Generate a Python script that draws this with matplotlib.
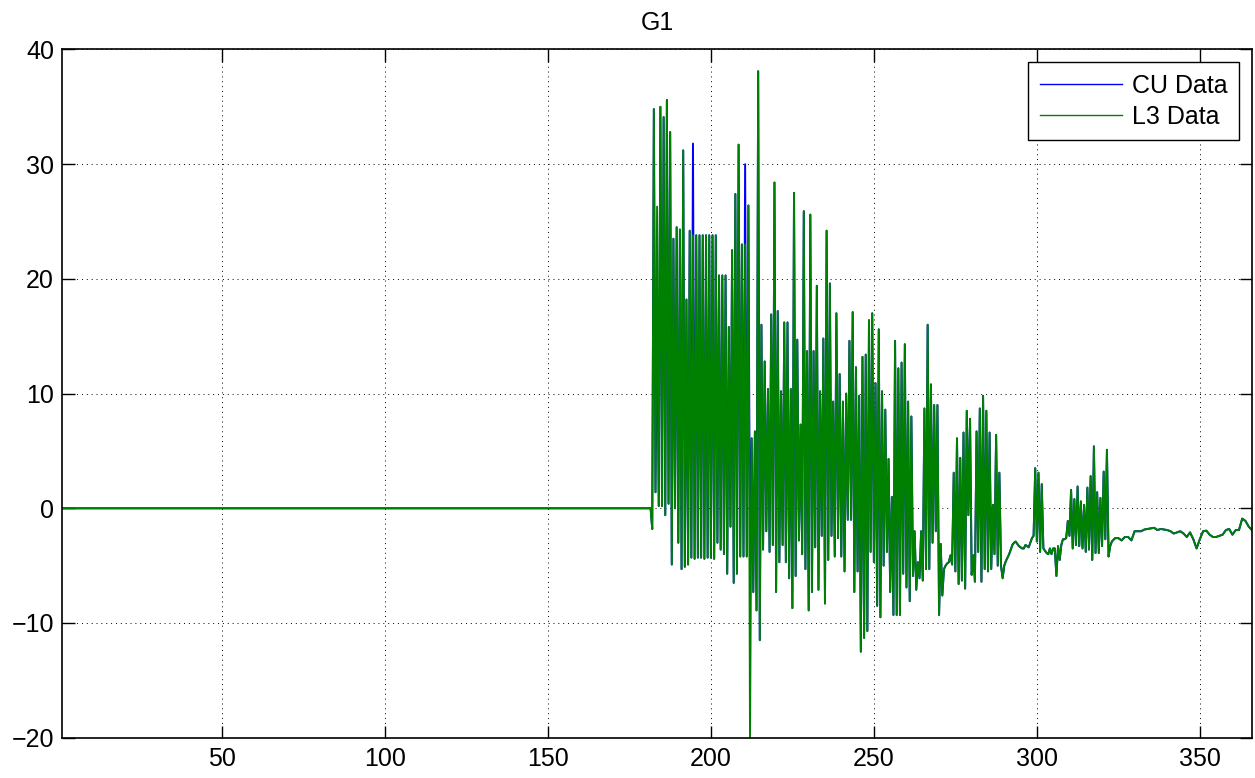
import numpy as np
import matplotlib
matplotlib.use("Agg")
import matplotlib.pyplot as plt

# ---- data ----
flat_days = [1, 181.5]
flat_vals = [0.0, 0.0]

burst_first_day = 182
burst_trough = [
    -1.8, 1.4, 0.2, 0.2, -0.6, 0.4, -4.9, 0.0, -3.0, -5.3, -5.1, -4.9,
    -4.3, -4.4, -4.3, -4.3, -4.4, -4.3, -4.3, -4.4,
    -3.0, -3.6, -4.0, -5.7, -1.6, -6.5, -5.7, -4.2, -4.2,
    -4.2, -20.0, -7.3, -8.9, -11.5, -3.6, -2.0, -3.8, -3.2, -7.3,
    -4.7, -3.2, -4.7, -6.1, -8.7, -5.9, -2.8, -4.0, -5.3, -8.9,
    -7.3, -3.4, -7.1, -2.4, -8.3, -4.5, -2.4, -4.2, -2.6, -4.2,
    -5.5, -1.0, -1.0, -7.3, -5.5, -12.5, -11.3, -10.7, -3.8, -4.7,
    -8.5, -9.5, -5.0, -3.8, -7.3, -9.3, -9.3, -9.3, -5.7, -6.9,
    -8.1, -5.9, -7.1, -6.1, -6.3, -5.3, -5.3, -3.0, -2.0, -9.3,
    -7.6, -5.0, -4.7, -4.9, -5.5, -6.6, -6.3, -7.0, -0.6, -5.8,
    -6.4, -3.8, -6.4, -5.3, -5.5, -5.3, -4.0, -5.0, -5.0, -5.0,
    -4.3, -3.6, -3.0, -3.1, -3.4, -3.5, -3.3, -3.0, -2.4, -2.9,
    -3.8, -3.5, -3.9, -3.5, -3.5, -5.9, -4.5, -2.7, -2.6, -2.4,
    -3.5, -3.2, -3.3, -3.5, -3.8, -3.6, -4.5, -3.9, -3.9, -3.3,
    -2.7, -4.2,
]
burst_peak = [
    34.8, 26.3, 35.0, 34.1, 35.6, 32.8, 23.5, 24.5, 24.3, 31.2, 18.2, 24.2,
    23.8, 23.8, 23.8, 23.8, 23.8, 23.8, 23.8, 23.8,
    20.3, 20.3, 20.3, 15.8, 22.5, 27.4, 31.7, 23.0, 23.0,
    26.4, 6.1, 6.7, 38.1, 16.0, 12.8, 10.4, 16.9, 28.4, 17.2,
    10.2, 16.2, 16.2, 10.4, 27.5, 14.7, 7.3, 25.9, 13.7, 25.6,
    13.7, 19.4, 10.2, 14.8, 24.2, 19.6, 9.3, 17.0, 11.7, 9.3,
    10.0, 14.6, 17.1, 12.3, 9.8, 13.2, 13.4, 16.4, 17.0, 10.9,
    15.6, 10.2, 8.6, 4.3, 1.0, 14.6, 12.2, 12.7, 14.3, 9.3,
    8.0, -2.0, -4.7, -2.0, 8.7, 16.0, 10.8, 9.0, 9.0, -3.1,
    -5.3, -4.8, -4.1, 3.1, 6.1, 4.4, 6.6, 8.5, 7.8, -4.1,
    6.7, 8.7, 9.8, 8.5, 6.6, 0.3, 6.4, 3.1, -6.1, -4.6,
    -4.0, -3.2, -2.9, -3.3, -3.5, -3.2, -3.4, -2.6, 3.5, 3.1,
    2.1, -3.7, -4.0, -4.0, -3.5, -3.3, -3.2, -2.7, -1.1, 1.6,
    0.8, 1.9, 0.6, 0.3, 1.8, 2.8, 5.4, 1.4, 0.9, 3.2,
    5.1, -3.3,
]
# CU Data differs from L3 Data only at these days
cu_peak_diff = {183: 18.2, 194: 31.8, 210: 30.0}
cu_trough_diff = {212: -5.3}

tail_first_day = 323
tail_vals = [
    -2.9, -2.6, -2.6, -2.8, -2.5, -2.5, -2.8, -2.0, -2.0, -2.0,
    -1.85, -1.8, -1.75, -1.7, -1.9, -1.8, -1.85, -1.9, -2.0, -2.2,
    -2.1, -2.0, -2.2, -2.5, -2.1, -2.7, -3.5, -2.7, -2.0, -1.95,
    -2.3, -2.5, -2.5, -2.4, -2.3, -1.9, -1.8, -2.3, -1.9, -1.9,
    -0.9, -1.1, -1.6, -1.9,
]

x_ticks = [50, 100, 150, 200, 250, 300, 350]
y_ticks = [-20, -10, 0, 10, 20, 30, 40]
y_tick_labels = ['\u221220', '\u221210', '0', '10', '20', '30', '40']


def build(trough, peak):
    days = burst_first_day + np.arange(len(trough))
    bx = np.empty(2 * len(days))
    by = np.empty(2 * len(days))
    bx[0::2] = days
    bx[1::2] = days + 0.5
    by[0::2] = trough
    by[1::2] = peak
    tx = tail_first_day + np.arange(len(tail_vals))
    x = np.concatenate([flat_days, bx, tx])
    y = np.concatenate([flat_vals, by, tail_vals])
    return x, y


l3_x, l3_y = build(burst_trough, burst_peak)
cu_trough = list(burst_trough)
cu_peak = list(burst_peak)
for d, v in cu_peak_diff.items():
    cu_peak[d - burst_first_day] = v
for d, v in cu_trough_diff.items():
    cu_trough[d - burst_first_day] = v
cu_x, cu_y = build(cu_trough, cu_peak)

# ---- plot ----
plt.rcParams['font.family'] = ['Liberation Sans', 'DejaVu Sans']
FS = 18
fig = plt.figure(figsize=(12.55, 7.78), dpi=100)
ax = fig.add_axes([0.0496, 0.0518, 0.9480, 0.8846])

ax.plot(cu_x, cu_y, color=(0, 0, 1), lw=1.4, label='CU Data')
ax.plot(l3_x, l3_y, color=(0, 0.5, 0), lw=1.4, label='L3 Data')

ax.set_xlim(1, 366)
ax.set_ylim(-20, 40)
ax.set_xticks(x_ticks)
ax.set_yticks(y_ticks)
ax.set_yticklabels(y_tick_labels)
ax.tick_params(direction='in', length=9, width=1, top=True, right=True,
               labelsize=FS)
ax.tick_params(axis='x', pad=7)
ax.tick_params(axis='y', pad=6)
ax.grid(True, color='black', linestyle=(0, (1, 4)), linewidth=0.7)
for s in ax.spines.values():
    s.set_linewidth(1.2)
ax.set_title('G1', fontsize=FS, pad=14)

leg = ax.legend(loc='upper right', fontsize=FS, handlelength=3.3,
                fancybox=False, framealpha=1, edgecolor='black',
                borderaxespad=0.52, labelspacing=0.3, borderpad=0.45,
                handletextpad=0.4)
leg.get_frame().set_linewidth(1.0)
for line in leg.get_lines():
    line.set_linewidth(1.0)

fig.savefig('out.png', dpi=100)
